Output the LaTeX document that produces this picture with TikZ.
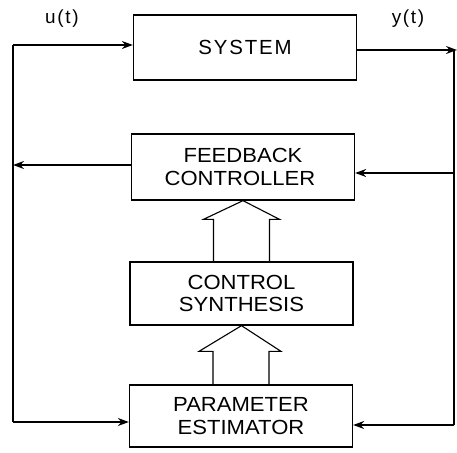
\documentclass[tikz,border=0pt]{standalone}
\usepackage{fontspec}
\setmainfont{Liberation Sans}
\newfontfamily\spaced[LetterSpace=9]{Liberation Sans}
\newfontfamily\wide[FakeStretch=1.08]{Liberation Sans}
\usetikzlibrary{arrows.meta}
\begin{document}
\begin{tikzpicture}[x=1bp,y=-1bp,
  line width=1.3bp,
  blk/.style={draw, minimum width=223bp, align=center, inner sep=0pt,
    font=\wide\fontsize{20.5}{23}\selectfont},
  sig/.style={-{Stealth[length=11bp,width=8bp]}},
  hollow/.style={draw, line width=1.1bp, line join=miter},
  lbl/.style={font=\spaced\fontsize{19}{22}\selectfont, inner sep=0pt}]
\useasboundingbox (0,0) rectangle (457,453);
% blocks
\node[blk, minimum height=65bp] (sys) at (245,47.5) {{\spaced\fontsize{20.5}{23}\selectfont SYSTEM}};
\node[blk, minimum height=66bp] (fc) at (243,167) {FEEDBACK\\CONTROLLER\hspace*{6bp}};
\node[blk, minimum height=63bp] (cs) at (241.5,293.5) {CONTROL\\SYNTHESIS};
\node[blk, minimum height=62bp] (pe) at (241,416) {PARAMETER\\ESTIMATOR};
% labels
\node[lbl] (ulab) at (62,19) {u(t)};
\node[lbl] (ylab) at (408,19) {y(t)};
% corner coordinates
\coordinate (L1) at (13,45);
\coordinate (L2) at (13,422);
\coordinate (LF) at (13,165);
\coordinate (R1) at (454,50);
\coordinate (RF) at (454,173);
\coordinate (R2) at (454,425);
\coordinate (Rout) at (457,50);
% input loop on the left
\draw[sig] (L1) -- (sys.west |- L1);
\draw (L1) -- (L2);
\draw[sig] (L2) -- (pe.west |- L2);
\draw[sig] (fc.west |- LF) -- (LF);
% output and right feedback
\draw[sig] (sys.east |- R1) -- (Rout);
\draw (R1) -- (R2);
\draw[sig] (RF) -- (fc.east |- RF);
\draw[sig] (R2) -- (pe.east |- R2);
% hollow arrows
\draw[hollow] ([shift={(-28,0)}]cs.north) -- ([shift={(-28,-42)}]cs.north)
  -- ([shift={(-38,-42)}]cs.north) -- (fc.south) -- ([shift={(38,-42)}]cs.north)
  -- ([shift={(28,-42)}]cs.north) -- ([shift={(28,0)}]cs.north);
\draw[hollow] ([shift={(-28,0)}]pe.north) -- ([shift={(-28,-33)}]pe.north)
  -- ([shift={(-42,-33)}]pe.north) -- (cs.south) -- ([shift={(40,-33)}]pe.north)
  -- ([shift={(28,-33)}]pe.north) -- ([shift={(28,0)}]pe.north);
\end{tikzpicture}
\end{document}
